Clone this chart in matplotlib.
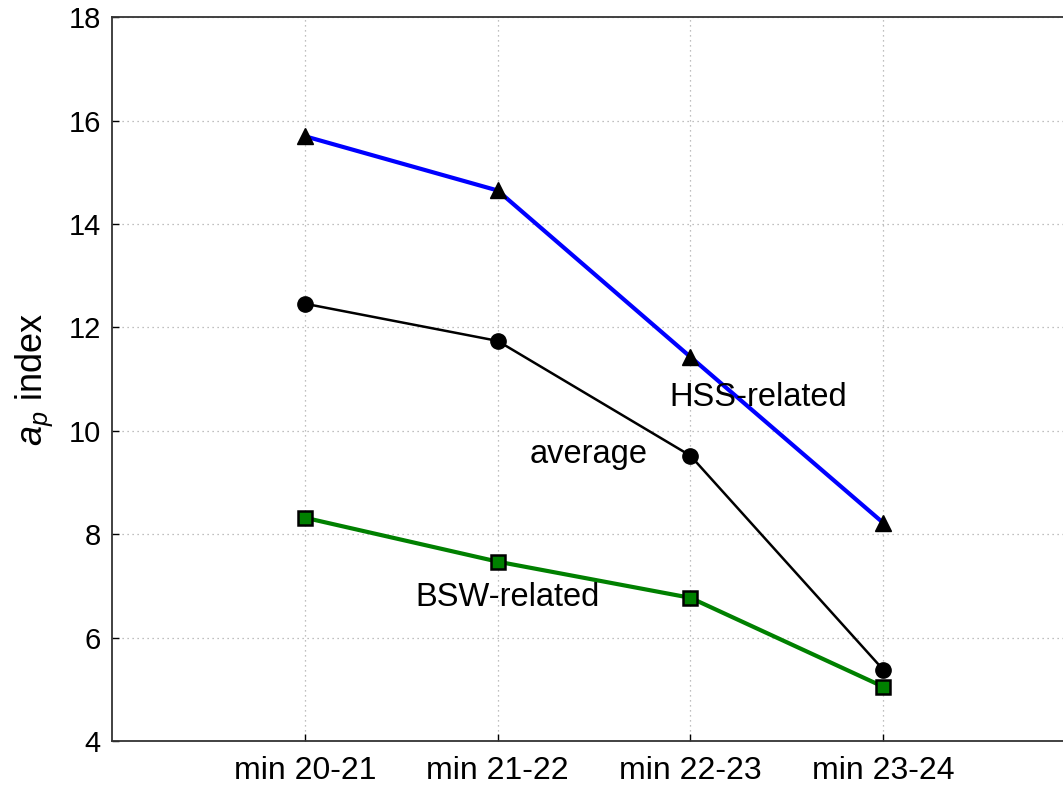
import matplotlib
matplotlib.use("Agg")
import matplotlib.pyplot as plt

plt.rcParams['font.family'] = ['Liberation Sans', 'DejaVu Sans']
plt.rcParams['mathtext.fontset'] = 'custom'
plt.rcParams['mathtext.rm'] = 'Liberation Sans'
plt.rcParams['mathtext.it'] = 'Liberation Sans:italic'

# solar minima periods
periods = ['min 20-21', 'min 21-22', 'min 22-23', 'min 23-24']
pos = [1, 2, 3, 4]

# ap index per category
hss = [15.7, 14.65, 11.43, 8.22]
avg = [12.46, 11.74, 9.52, 5.38]
bsw = [8.32, 7.47, 6.77, 5.05]

fig = plt.figure(figsize=(10.63, 7.86), dpi=100)
ax = fig.add_axes([112/1063, 1 - 741/786, (1076 - 112)/1063, (741 - 17.3)/786])

ax.plot(pos, hss, color='blue', lw=3, marker='^', ms=12,
        mfc='black', mec='black', zorder=3)
ax.plot(pos, avg, color='black', lw=1.8, marker='o', ms=11,
        mfc='black', mec='black', zorder=3)
ax.plot(pos, bsw, color='green', lw=3, marker='s', ms=10,
        mfc='green', mec='black', mew=1.8, zorder=3)

ax.text(3.35, 10.64, 'HSS-related', fontsize=23.5, ha='center', va='center')
ax.text(2.47, 9.55, 'average', fontsize=23.5, ha='center', va='center')
ax.text(2.05, 6.77, 'BSW-related', fontsize=23.5, ha='center', va='center')

ax.set_xlim(0, 5)
ax.set_ylim(4, 18)
ax.set_xticks(pos)
ax.set_xticklabels(periods)
ax.set_yticks(range(4, 19, 2))
ax.tick_params(direction='in', length=5, width=1, pad=8)
ax.tick_params(axis='x', labelsize=23, pad=11)
ax.tick_params(axis='y', labelsize=21)
ax.grid(True, color='#aaaaaa', ls=(0, (1, 3)), lw=0.9)

for s in ax.spines.values():
    s.set_linewidth(1.3)
    s.set_color('#333333')

ax.set_ylabel(r'$a_p$ index', fontsize=26, labelpad=10)

fig.savefig('out.png', dpi=100)
